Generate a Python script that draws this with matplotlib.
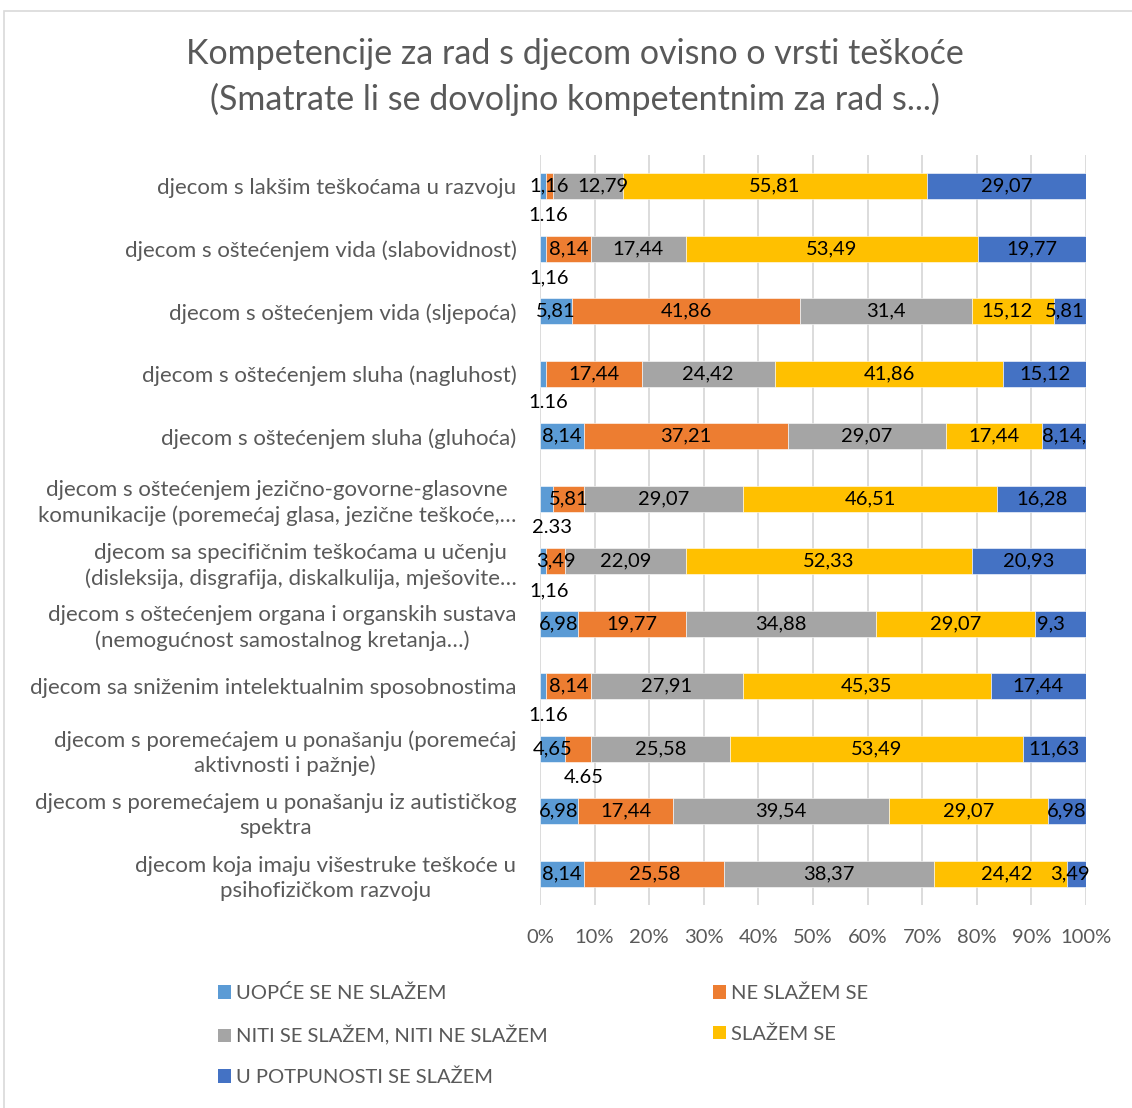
import matplotlib.pyplot as plt
import numpy as np
from matplotlib.patches import Patch, Rectangle

plt.rcParams["font.family"] = ["Lato", "DejaVu Sans"]

categories = [
    "djecom s lakšim teškoćama u razvoju",
    "djecom s oštećenjem vida (slabovidnost)",
    "djecom s oštećenjem vida (sljepoća)",
    "djecom s oštećenjem sluha (nagluhost)",
    "djecom s oštećenjem sluha (gluhoća)",
    "djecom s oštećenjem jezično-govorne-glasovne\nkomunikacije (poremećaj glasa, jezične teškoće,…",
    "djecom sa specifičnim teškoćama u učenju\n(disleksija, disgrafija, diskalkulija, mješovite…",
    "djecom s oštećenjem organa i organskih sustava\n(nemogućnost samostalnog kretanja…)",
    "djecom sa sniženim intelektualnim sposobnostima",
    "djecom s poremećajem u ponašanju (poremećaj\naktivnosti i pažnje)",
    "djecom s poremećajem u ponašanju iz autističkog\nspektra",
    "djecom koja imaju višestruke teškoće u\npsihofizičkom razvoju",
]

series_names = [
    "UOPĆE SE NE SLAŽEM",
    "NE SLAŽEM SE",
    "NITI SE SLAŽEM, NITI NE SLAŽEM",
    "SLAŽEM SE",
    "U POTPUNOSTI SE SLAŽEM",
]

uopce = [1.16, 1.16, 5.81, 1.16, 8.14, 2.33, 1.16, 6.98, 1.16, 4.65, 6.98, 8.14]
ne_slazem = [1.16, 8.14, 41.86, 17.44, 37.21, 5.81, 3.49, 19.77, 8.14, 4.65, 17.44, 25.58]
niti = [12.79, 17.44, 31.4, 24.42, 29.07, 29.07, 22.09, 34.88, 27.91, 25.58, 39.54, 38.37]
slazem = [55.81, 53.49, 15.12, 41.86, 17.44, 46.51, 52.33, 29.07, 45.35, 53.49, 29.07, 24.42]
potpuno = [29.07, 19.77, 5.81, 15.12, 8.14, 16.28, 20.93, 9.3, 17.44, 11.63, 6.98, 3.49]

# labels that sit below their bar in the original (row, series, text)
moved_labels = [
    (0, 0, "1.16"),
    (1, 0, "1,16"),
    (3, 0, "1.16"),
    (5, 0, "2.33"),
    (6, 0, "1,16"),
    (8, 0, "1.16"),
    (9, 1, "4.65"),
]
# label text overrides for labels kept inside the bar
label_override = {(4, 4): "8,14,"}
# small horizontal shifts (pixels) of some inside labels, as in the original
label_nudge = {(0, 2): 15, (2, 3): -6, (2, 4): -5, (7, 4): -10,
               (11, 3): 6, (11, 4): -7}

colors = ["#5B9BD5", "#ED7D31", "#A5A5A5", "#FFC000", "#4472C4"]
text_gray = "#595959"

data = np.array([uopce, ne_slazem, niti, slazem, potpuno])
y = np.arange(len(categories))

fig = plt.figure(figsize=(11.32, 11.08), dpi=100)
ax = fig.add_axes([540 / 1132, 1 - 905 / 1108, 546 / 1132, 750 / 1108])

# outer chart border like the Excel chart area
fig.patches.append(Rectangle((4 / 1132, -0.05), 1.2, 1 - 11 / 1108 + 0.05,
                             transform=fig.transFigure, fill=False,
                             edgecolor="#D9D9D9", linewidth=1.2))

moved = {(r, s): t for r, s, t in moved_labels}
left = np.zeros(len(categories))
for i, name in enumerate(series_names):
    vals = data[i]
    ax.barh(y, vals, left=left, height=0.42, color=colors[i],
            edgecolor="white", linewidth=0.4, label=name, zorder=3)
    for r in range(len(categories)):
        cx = left[r] + vals[r] / 2
        if (r, i) in moved:
            ax.annotate(moved[(r, i)], (cx, y[r]), xytext=(4, -21),
                        textcoords="offset points", ha="center", va="center",
                        fontsize=14.5, color="black", zorder=4)
        else:
            txt = label_override.get((r, i), f"{vals[r]:g}".replace(".", ","))
            dx = label_nudge.get((r, i), 0) * 0.72
            ax.annotate(txt, (cx, y[r]), xytext=(dx, 0),
                        textcoords="offset points", ha="center", va="center",
                        fontsize=14.5, color="black", zorder=4)
    left += vals

ax.set_xlim(0, 100)
ax.set_ylim(len(categories) - 0.5, -0.5)
ax.set_xticks(np.arange(0, 101, 10))
ax.set_xticklabels([f"{v}%" for v in range(0, 101, 10)])
ax.set_yticks(y)
ax.set_yticklabels(categories)
for t in ax.get_yticklabels():
    t.set_multialignment("center")
    t.set_linespacing(1.3)
ax.tick_params(axis="both", length=0, colors=text_gray)
ax.tick_params(axis="x", labelsize=14.5, pad=17.5)
ax.tick_params(axis="y", labelsize=16, pad=17)
ax.grid(axis="x", color="#D9D9D9", linewidth=1.3, zorder=0)
for s in ax.spines.values():
    s.set_visible(False)

fig.text(0.508, 1 - 77 / 1108,
         "Kompetencije za rad s djecom ovisno o vrsti teškoće\n"
         "(Smatrate li se dovoljno kompetentnim za rad s...)",
         ha="center", va="center", fontsize=24.5, color=text_gray,
         linespacing=1.45)

handles = [Patch(facecolor=c) for c in colors]
order = [0, 2, 4, 1, 3]
fig.legend([handles[k] for k in order], [series_names[k] for k in order],
           ncol=2, loc="upper left", bbox_to_anchor=(200 / 1132, 1 - 966 / 1108),
           frameon=False, fontsize=14.5, labelcolor=text_gray,
           handlelength=0.65, handleheight=0.65, handletextpad=0.25,
           columnspacing=8.2, labelspacing=1.15)

fig.savefig("out.png", dpi=100)
